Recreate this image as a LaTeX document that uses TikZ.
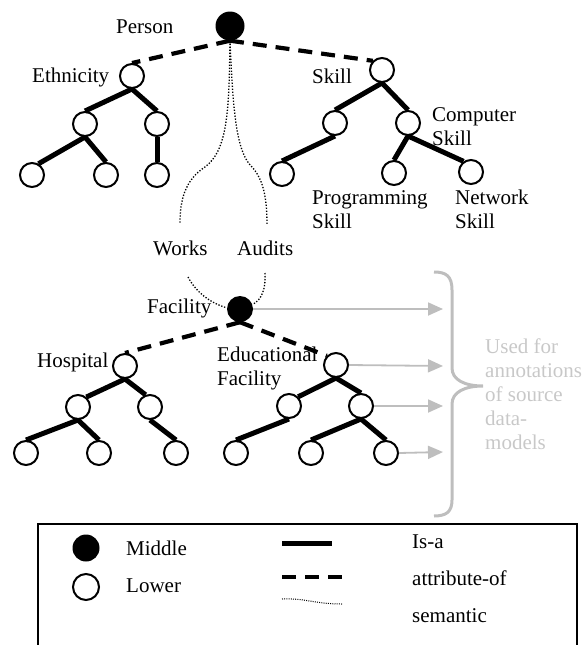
\documentclass[tikz,border=0pt]{standalone}
\usepackage{fontspec}
\setmainfont{Liberation Serif}
\usetikzlibrary{arrows.meta}
\definecolor{lightgr}{RGB}{190,190,190}
\definecolor{textgr}{RGB}{200,200,200}
\begin{document}
\begin{tikzpicture}[x=1pt,y=-1pt,
  lower/.style={circle,draw,line width=2pt,minimum size=24pt,inner sep=0pt,fill=white},
  middle/.style={circle,fill=black,minimum size=26pt,inner sep=0pt},
  isa/.style={line width=5pt},
  attr/.style={line width=4.2pt,dash pattern=on 14pt off 9pt},
  sem/.style={line width=1.3pt,dash pattern=on 1.3pt off 1.7pt},
  ann/.style={draw=lightgr,line width=1.8pt,-{Triangle[length=15pt,width=13pt]}},
  lbl/.style={inner sep=0pt,anchor=base west,align=left},
  font=\fontsize{21}{23.5}\selectfont]
\useasboundingbox (0,0) rectangle (587,645);
\clip (0,0) rectangle (587,645);

% ---------- upper tree nodes ----------
\node[middle,minimum size=29pt] (person) at (230,26) {};
\node[lower] (eth) at (132,76) {};
\node[lower] (e1) at (85,124) {};
\node[lower] (e2) at (157,124) {};
\node[lower] (e11) at (32,175) {};
\node[lower] (e12) at (106,175) {};
\node[lower] (e21) at (157,175) {};
\node[lower] (skill) at (382,70) {};
\node[lower] (s1) at (335,123) {};
\node[lower] (s2) at (408,123) {};
\node[lower] (s11) at (282,174) {};
\node[lower] (s21) at (394,173) {};
\node[lower] (s22) at (471,172) {};

% ---------- lower tree nodes ----------
\node[middle] (fac) at (240,309) {};
\node[lower] (hosp) at (125,366) {};
\node[lower] (h1) at (78,407) {};
\node[lower] (h2) at (150,407) {};
\node[lower] (h11) at (26,453) {};
\node[lower] (h12) at (99,453) {};
\node[lower] (h21) at (176,453) {};
\node[lower] (edu) at (336,365) {};
\node[lower] (d1) at (289,406) {};
\node[lower] (d2) at (361,406) {};
\node[lower] (d11) at (236,453) {};
\node[lower] (d21) at (311,453) {};
\node[lower] (d22) at (386,453) {};

% ---------- labels (base = baseline of last line) ----------
\node[lbl] (lperson) at (116,33) {Person};
\node[lbl] (leth) at (32,82) {Ethnicity};
\node[lbl] (lskill) at (312,83) {Skill};
\node[lbl] (lcomp) at (432,145) {Computer\\Skill};
\node[lbl] (lprog) at (312,228) {Programming\\Skill};
\node[lbl] (lnet) at (455,228) {Network\\Skill};
\node[lbl] (lworks) at (153,255) {Works};
\node[lbl] (laudits) at (237,255) {Audits};
\node[lbl] (lfac) at (147,313) {Facility};
\node[lbl] (lhosp) at (37,367) {Hospital};
\node[lbl] (ledu) at (217,385) {Educational\\Facility};
\node[lbl,text=textgr,font=\fontsize{21}{24}\selectfont] (lused) at (485,449) {Used for\\annotations\\of source\\data-\\models};

% ---------- attribute-of ----------
\draw[attr] (person.south) -- (eth.north);
\draw[attr] (person.south) -- (skill.135);
\draw[attr] (fac.south) -- (hosp.north);
\draw[attr] (fac.south) -- (edu.135);

% ---------- is-a ----------
\draw[isa] (eth.south) -- (e1.north);
\draw[isa] (eth.south) -- (e2.north);
\draw[isa] (e1.south) -- (e11.60);
\draw[isa] (e1.south) -- (e12.north);
\draw[isa] (e2.south) -- (e21.north);
\draw[isa] (skill.south) -- (s1.north);
\draw[isa] (skill.south) -- (s2.north);
\draw[isa] (s1.south) -- (s11.north);
\draw[isa] (s2.south) -- (s21.north);
\draw[isa] (s2.south) -- (s22.125);
\draw[isa] (hosp.south) -- (h1.50);
\draw[isa] (hosp.south) -- (h2.110);
\draw[isa] (h1.south) -- (h11.north);
\draw[isa] (h1.south) -- (h12.north);
\draw[isa] (h2.south) -- (h21.north);
\draw[isa] (edu.south) -- (d1.45);
\draw[isa] (edu.south) -- (d2.north);
\draw[isa] (d1.south) -- (d11.north);
\draw[isa] (d2.south) -- (d21.north);
\draw[isa] (d2.south) -- (d22.north);

% ---------- semantic ----------
\coordinate (wk1) at (180,223);
\coordinate (au1) at (267,225);
\coordinate (wk2) at (188,277);
\coordinate (au2) at (265,273);
\draw[sem] (person.south) .. controls (229,110) and (228,150) .. (205,167)
  .. controls (185,180) and (180,200) .. (wk1);
\draw[sem] (person.south) .. controls (233,110) and (236,152) .. (252,167)
  .. controls (264,180) and (267,200) .. (au1);
\draw[sem] (wk2) .. controls (196,292) and (210,303) .. (fac.175);
\draw[sem] (au2) .. controls (266,288) and (262,300) .. (fac.20);

% ---------- annotation arrows ----------
\coordinate (t1) at (443,309);
\coordinate (t2) at (443,366);
\coordinate (t3) at (443,406);
\coordinate (t4) at (443,452);
\draw[ann] (fac.east) -- (t1);
\draw[ann] (edu.east) -- (t2);
\draw[ann] (d2.east) -- (t3);
\draw[ann] (d22.east) -- (t4);

% ---------- brace ----------
\coordinate (b1) at (434,272);
\coordinate (b2) at (434,516);
\draw[lightgr,line width=3pt] (b1) .. controls (446,272) and (452,276) .. (452,290)
  -- (452,368) .. controls (452,380) and (465,386) .. (483,386)
  .. controls (465,386) and (452,392) .. (452,404)
  -- (452,500) .. controls (452,512) and (446,516) .. (b2);

% ---------- legend ----------
\coordinate (box1) at (38,524);
\coordinate (box2) at (577,660);
\draw[line width=1.5pt] (box1) rectangle (box2);
\node[middle,minimum size=27pt] (lm) at (86,548) {};
\node[lower,minimum size=26pt] (ll) at (86,587) {};
\node[lbl] (tmid) at (126,555) {Middle};
\node[lbl] (tlow) at (126,592) {Lower};
\coordinate (k1a) at (282,543);
\coordinate (k1b) at (332,543);
\coordinate (k2a) at (282,577);
\coordinate (k2b) at (343,577);
\coordinate (k3a) at (282,599);
\coordinate (k3b) at (342,604);
\draw[isa] (k1a) -- (k1b);
\draw[attr] (k2a) -- (k2b);
\draw[sem,line width=1pt,dash pattern=on 1pt off 1.2pt] (k3a) .. controls (305,598) and (315,604) .. (k3b);
\node[lbl] (tisa) at (412,548) {Is-a};
\node[lbl] (tattr) at (412,585) {attribute-of};
\node[lbl] (tsem) at (412,622) {semantic};
\end{tikzpicture}
\end{document}
